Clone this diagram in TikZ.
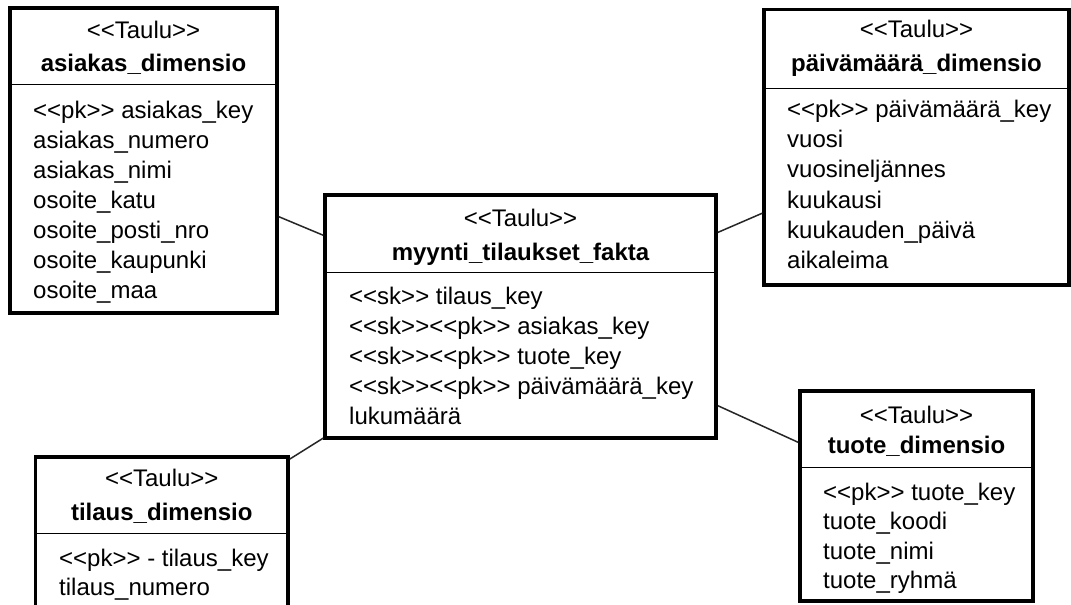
\documentclass[tikz,border=0pt]{standalone}
\usepackage{fontspec}
\setmainfont{Liberation Sans}[Ligatures=TeXOff]
\begin{document}
\begin{tikzpicture}[x=1pt,y=-1pt,
  txt/.style={inner sep=0pt, font=\fontsize{24}{29}\selectfont},
  tablebox/.style={draw=black, line width=3.5pt, inner sep=0pt, fill=white},
  divider/.style={draw=black, line width=1pt},
  stereo/.style={txt, anchor=base},
  tname/.style={txt, anchor=base, font=\fontsize{24}{29}\selectfont\bfseries},
  attr/.style={txt, anchor=base west},
  link/.style={draw=black!85, line width=1.5pt}
]
\useasboundingbox (0,0) rectangle (1071,605);
\fill[white] (0,0) rectangle (1071,605);
\clip (0,0) rectangle (1071,605);

% table frames
\node[tablebox, minimum width=267pt, minimum height=305pt] (asiakas) at (143.5,160.5) {};
\node[tablebox, minimum width=391pt, minimum height=243pt] (fact) at (520.5,316.5) {};
\node[tablebox, minimum width=305pt, minimum height=275.5pt] (paiva) at (916.5,147.25) {};
\node[tablebox, minimum width=252.5pt, minimum height=163pt] (tilaus) at (161.75,538.5) {};
\node[tablebox, minimum width=233pt, minimum height=210pt] (tuote) at (916.5,496) {};

% connectors between the fact table and the dimensions
\draw[link] (asiakas) -- (fact);
\draw[link] (paiva) -- (fact);
\draw[link] (tuote) -- (fact);
\draw[link] (tilaus) -- (fact);

% asiakas_dimensio
\draw[divider] (asiakas.west |- 0,84.3) -- (asiakas.east |- 0,84.3);
\node[stereo] (asiakas-st) at (143.5,38) {<<Taulu>>};
\node[tname] (asiakas-nm) at (143.5,71.5) {asiakas\_dimensio};
\node[attr] (asiakas-a1) at (33,118.3) {<<pk>> asiakas\_key};
\node[attr] (asiakas-a2) at (33,148.3) {asiakas\_numero};
\node[attr] (asiakas-a3) at (33,178.3) {asiakas\_nimi};
\node[attr] (asiakas-a4) at (33,208.3) {osoite\_katu};
\node[attr] (asiakas-a5) at (33,238.3) {osoite\_posti\_nro};
\node[attr] (asiakas-a6) at (33,268.3) {osoite\_kaupunki};
\node[attr] (asiakas-a7) at (33,298.3) {osoite\_maa};

% myynti_tilaukset_fakta
\draw[divider] (fact.west |- 0,272.7) -- (fact.east |- 0,272.7);
\node[stereo] (fact-st) at (520.5,226.7) {<<Taulu>>};
\node[tname] (fact-nm) at (520.5,260) {myynti\_tilaukset\_fakta};
\node[attr] (fact-a1) at (349,304) {<<sk>> tilaus\_key};
\node[attr] (fact-a2) at (349,334) {<<sk>><<pk>> asiakas\_key};
\node[attr] (fact-a3) at (349,364) {<<sk>><<pk>> tuote\_key};
\node[attr] (fact-a4) at (349,394) {<<sk>><<pk>> päivämäärä\_key};
\node[attr] (fact-a5) at (349,424) {lukumäärä};

% päivämäärä_dimensio
\draw[divider] (paiva.west |- 0,88.3) -- (paiva.east |- 0,88.3);
\node[stereo] (paiva-st) at (916.5,37.3) {<<Taulu>>};
\node[tname] (paiva-nm) at (916.5,71.5) {päivämäärä\_dimensio};
\node[attr] (paiva-a1) at (787,117.5) {<<pk>> päivämäärä\_key};
\node[attr] (paiva-a2) at (787,147.7) {vuosi};
\node[attr] (paiva-a3) at (787,177.9) {vuosineljännes};
\node[attr] (paiva-a4) at (787,208.1) {kuukausi};
\node[attr] (paiva-a5) at (787,238.3) {kuukauden\_päivä};
\node[attr] (paiva-a6) at (787,268.5) {aikaleima};

% tilaus_dimensio
\draw[divider] (tilaus.west |- 0,533.3) -- (tilaus.east |- 0,533.3);
\node[stereo] (tilaus-st) at (161.75,486) {<<Taulu>>};
\node[tname] (tilaus-nm) at (161.75,520) {tilaus\_dimensio};
\node[attr] (tilaus-a1) at (59,566) {<<pk>> - tilaus\_key};
\node[attr] (tilaus-a2) at (59,595) {tilaus\_numero};

% tuote_dimensio
\draw[divider] (tuote.west |- 0,467.3) -- (tuote.east |- 0,467.3);
\node[stereo] (tuote-st) at (916.5,423) {<<Taulu>>};
\node[tname] (tuote-nm) at (916.5,453) {tuote\_dimensio};
\node[attr] (tuote-a1) at (823,500) {<<pk>> tuote\_key};
\node[attr] (tuote-a2) at (823,529.5) {tuote\_koodi};
\node[attr] (tuote-a3) at (823,559) {tuote\_nimi};
\node[attr] (tuote-a4) at (823,588.5) {tuote\_ryhmä};
\end{tikzpicture}
\end{document}
